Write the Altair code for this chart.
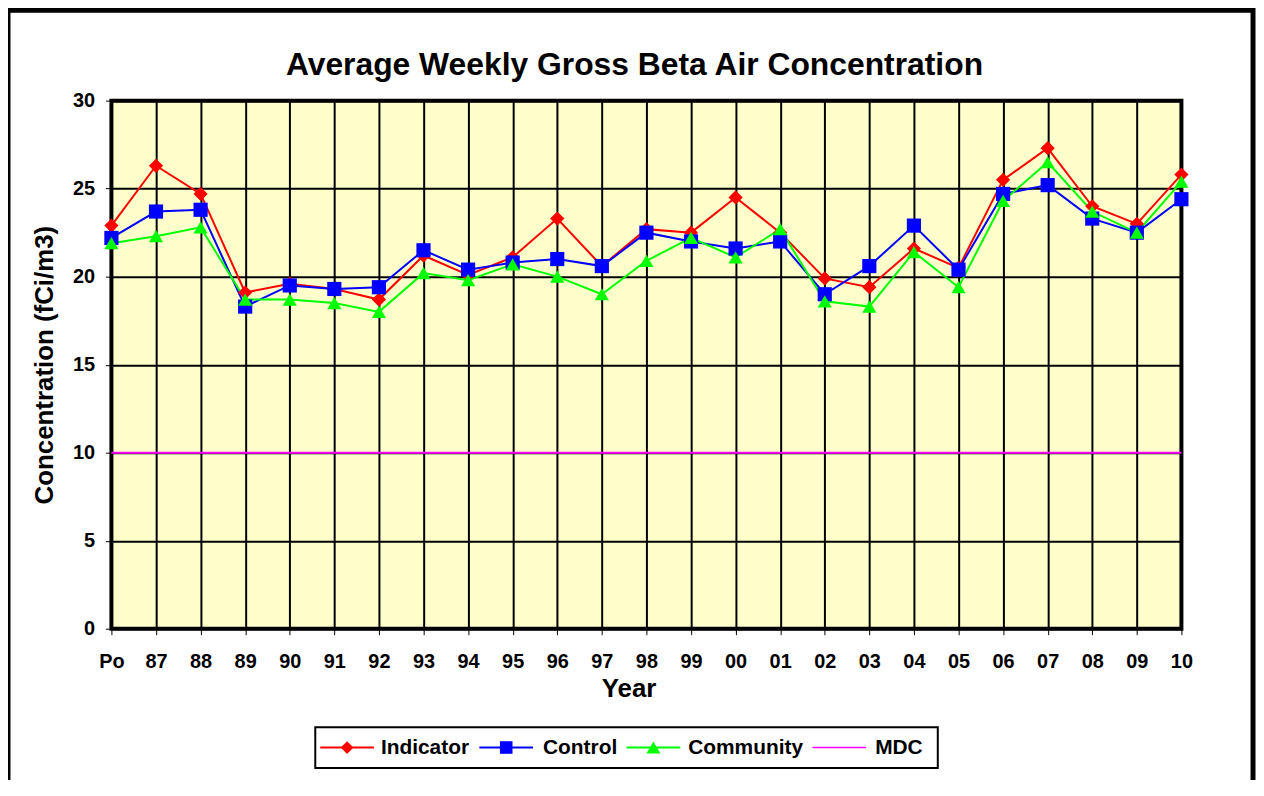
import altair as alt
import pandas as pd

# ---------------- data ----------------
years = ["Po", "87", "88", "89", "90", "91", "92", "93", "94", "95", "96", "97", "98",
         "99", "00", "01", "02", "03", "04", "05", "06", "07", "08", "09", "10"]
indicator = [22.9, 26.3, 24.7, 19.1, 19.6, 19.3, 18.7, 21.2, 20.1, 21.1, 23.3, 20.6, 22.7,
             22.5, 24.5, 22.5, 19.9, 19.4, 21.6, 20.5, 25.5, 27.3, 24.0, 23.0, 25.8]
control = [22.2, 23.7, 23.8, 18.3, 19.5, 19.3, 19.4, 21.5, 20.4, 20.8, 21.0, 20.6, 22.5,
           22.0, 21.6, 22.0, 19.0, 20.6, 22.9, 20.4, 24.7, 25.2, 23.3, 22.5, 24.4]
community = [21.9, 22.3, 22.8, 18.7, 18.7, 18.5, 18.0, 20.2, 19.8, 20.7, 20.0, 19.0, 20.9,
             22.2, 21.1, 22.7, 18.6, 18.3, 21.4, 19.4, 24.3, 26.5, 23.7, 22.5, 25.4]
mdc = [10, 10, 10, 10, 10, 10, 10, 10, 10, 10, 10, 10, 10,
       10, 10, 10, 10, 10, 10, 10, 10, 10, 10, 10, 10]

series_names = ["Indicator", "Control", "Community", "MDC"]
series_colors = ["#FF0000", "#0000FF", "#00FF00", "#FF00FF"]
marker_shapes = ["diamond", "square", "triangle-up", "M0,0"]
marker_sizes = [205, 200, 250, 10]
line_widths = [2, 2, 2, 1.5]
y_ticks = [0, 5, 10, 15, 20, 25, 30]

TITLE = "Average Weekly Gross Beta Air Concentration"
X_TITLE = "Year"
Y_TITLE = "Concentration (fCi/m3)"
FONT = "Liberation Sans"

rows = []
for name, vals in zip(series_names, [indicator, control, community, mdc]):
    for yr, v in zip(years, vals):
        rows.append({"Year": yr, "Series": name, "Value": v})
df = pd.DataFrame(rows)

# ---------------- main chart ----------------
x_enc = alt.X(
    "Year:N", sort=years, scale=alt.Scale(type="point", padding=0),
    axis=alt.Axis(title=X_TITLE, labelAngle=0, tickSize=6, labelPadding=17,
                  labelFontSize=20, titleFontSize=26, titleX=520, titleY=60,
                  titleBaseline="middle", titleAlign="center"),
)
y_enc = alt.Y(
    "Value:Q", scale=alt.Scale(domain=[0, 30], nice=False),
    axis=alt.Axis(title=Y_TITLE, values=y_ticks, tickSize=6, labelPadding=11,
                  labelFontSize=20, titleFontSize=26, titleAngle=270, titleX=-67,
                  titleY=265.5, titleBaseline="middle", titleAlign="center"),
)
color_scale = alt.Scale(domain=series_names, range=series_colors)

lines = alt.Chart(df).mark_line().encode(
    x=x_enc, y=y_enc,
    color=alt.Color("Series:N", scale=color_scale, legend=None),
    strokeWidth=alt.StrokeWidth("Series:N", scale=alt.Scale(domain=series_names, range=line_widths),
                                legend=None),
)

points = alt.Chart(df).transform_filter(alt.datum.Series != "MDC").mark_point(
    filled=True, opacity=1
).encode(
    x=x_enc, y=y_enc,
    color=alt.Color("Series:N", scale=color_scale, legend=None),
    shape=alt.Shape("Series:N", scale=alt.Scale(domain=series_names, range=marker_shapes), legend=None),
    size=alt.Size("Series:N", scale=alt.Scale(domain=series_names, range=marker_sizes), legend=None),
)

# outer chart frame (decoration)
frame = alt.Chart(pd.DataFrame({"f": [0]})).mark_rect(
    fill="transparent", stroke="black", strokeWidth=5
).encode(x=alt.value(-104), x2=alt.value(1148), y=alt.value(-91), y2=alt.value(900))

# ---------------- legend (drawn as marks below the plot) ----------------
LEG_BOX = (205, 630, 831, 671)          # pixel box in plot coordinates
LEG_LINE_X = [210, 370, 518, 705]       # left end of each legend line
LEG_LINE_LEN = 54
LEG_LABEL_X = [271, 434, 580, 768]
LEG_Y = 650.5

legend_layers = [
    alt.Chart(pd.DataFrame({"f": [0]})).mark_rect(fill="white", stroke="black", strokeWidth=2).encode(
        x=alt.value(LEG_BOX[0]), x2=alt.value(LEG_BOX[2]),
        y=alt.value(LEG_BOX[1]), y2=alt.value(LEG_BOX[3]))
]
for i, name in enumerate(series_names):
    one = alt.Chart(pd.DataFrame({"Series": [name]}))
    legend_layers.append(one.mark_rule(strokeWidth=line_widths[i], color=series_colors[i]).encode(
        x=alt.value(LEG_LINE_X[i]), x2=alt.value(LEG_LINE_X[i] + LEG_LINE_LEN),
        y=alt.value(LEG_Y), y2=alt.value(LEG_Y)))
    if name != "MDC":
        legend_layers.append(one.mark_point(
            filled=True, opacity=1, shape=marker_shapes[i], size=marker_sizes[i] * 0.8,
            color=series_colors[i]).encode(
            x=alt.value(LEG_LINE_X[i] + LEG_LINE_LEN / 2), y=alt.value(LEG_Y)))
    legend_layers.append(one.mark_text(
        align="left", baseline="middle", font=FONT, fontSize=21, fontWeight="bold",
        color="black").encode(
        text="Series:N", x=alt.value(LEG_LABEL_X[i]), y=alt.value(LEG_Y + 1)))

chart = alt.layer(frame, lines, points, *legend_layers).properties(
    width=1076, height=531,
    title=alt.TitleParams(text=TITLE, font=FONT, fontSize=32, fontWeight="bold", color="black",
                          anchor="middle", dx=-12, offset=-75),
    autosize=alt.AutoSizeParams(type="none"),
    padding={"left": 104, "top": 91, "right": 75, "bottom": 150},
    background="white",
).configure_view(
    fill="#FFFFCC", stroke="black", strokeWidth=4
).configure_axis(
    domain=False, grid=True, gridColor="black", gridWidth=2, gridOpacity=1,
    tickColor="black", tickWidth=1,
    labelFont=FONT, labelFontWeight="bold", labelColor="black",
    titleFont=FONT, titleFontWeight="bold", titleColor="black",
)

chart.save("out.html", embed_options={"renderer": "svg", "actions": False})
